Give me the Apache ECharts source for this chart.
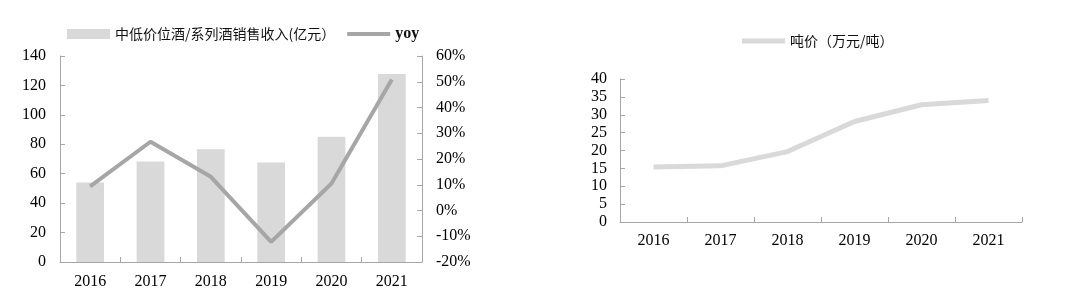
<!DOCTYPE html>
<html>
<head>
<meta charset="utf-8">
<script src="https://cdn.jsdelivr.net/npm/echarts@6/dist/echarts.min.js"></script>
<style>html,body{margin:0;padding:0;background:#fff}#c{width:1080px;height:305px}</style>
</head>
<body>
<div id="c"></div>
<script>
const years = ['2016','2017','2018','2019','2020','2021'];
const revenue = [54.1, 68.3, 76.7, 67.6, 85.1, 127.7];
const yoy = [9.4, 26.7, 13.1, -12.2, 10.5, 50.9];
const tonPrice = [15.4, 15.7, 19.7, 28.1, 32.8, 34.0];
const revName = '中低价位酒/系列酒销售收入(亿元）';
const yoyName = 'yoy';
const priceName = '吨价（万元/吨）';

const serif = 'Liberation Serif';
const cjk = 'Noto Sans CJK SC';
const axisLineStyle = {show: true, lineStyle: {color: '#a6a6a6', width: 1}};
const tickStyle = {show: true, inside: true, length: 5, lineStyle: {color: '#a6a6a6'}};
const labelStyle = {fontFamily: serif, fontSize: 16, color: '#000'};

const chart = echarts.init(document.getElementById('c'), null, {renderer: 'canvas'});
chart.setOption({
  animation: false,
  backgroundColor: '#fff',
  legend: [
    {data: [{name: revName, icon: 'rect'}, {name: yoyName, icon: 'path://M0,0H43V4H0Z'}],
     left: 62, top: 21, itemWidth: 43, itemHeight: 10, itemGap: 12,
     formatter: function (n) { return n === yoyName ? '{s|' + n + '}' : n; },
     textStyle: {fontFamily: cjk, fontSize: 14, color: '#111',
       rich: {s: {fontFamily: serif, fontSize: 16, fontWeight: 'bold', color: '#111'}}}},
    {data: [{name: priceName, icon: 'path://M0,0H43V5H0Z'}], left: 737, top: 29, itemWidth: 43, itemHeight: 10,
     textStyle: {fontFamily: cjk, fontSize: 14, color: '#111'}}
  ],
  grid: [
    {left: 60, right: 658, top: 56, bottom: 43},
    {left: 620, right: 58, top: 79, bottom: 83}
  ],
  xAxis: [
    {type: 'category', gridIndex: 0, data: years, boundaryGap: true,
     axisLine: axisLineStyle, axisTick: tickStyle, axisLabel: Object.assign({margin: 12}, labelStyle)},
    {type: 'category', gridIndex: 1, data: years, boundaryGap: true,
     axisLine: axisLineStyle, axisTick: tickStyle, axisLabel: Object.assign({margin: 11}, labelStyle)}
  ],
  yAxis: [
    {type: 'value', gridIndex: 0, min: 0, max: 140, interval: 20,
     axisLine: axisLineStyle, axisTick: tickStyle, splitLine: {show: false},
     axisLabel: Object.assign({margin: 14}, labelStyle)},
    {type: 'value', gridIndex: 0, min: -20, max: 60, interval: 10, position: 'right',
     axisLine: axisLineStyle, axisTick: tickStyle, splitLine: {show: false},
     axisLabel: Object.assign({margin: 14, formatter: '{value}%'}, labelStyle)},
    {type: 'value', gridIndex: 1, min: 0, max: 40, interval: 5,
     axisLine: axisLineStyle, axisTick: tickStyle, splitLine: {show: false},
     axisLabel: Object.assign({margin: 13}, labelStyle)}
  ],
  series: [
    {name: revName, type: 'bar', xAxisIndex: 0, yAxisIndex: 0, data: revenue,
     barWidth: '46%', itemStyle: {color: '#d9d9d9'}},
    {name: yoyName, type: 'line', xAxisIndex: 0, yAxisIndex: 1, data: yoy,
     symbol: 'none', lineStyle: {color: '#a6a6a6', width: 4}, itemStyle: {color: '#a6a6a6'}},
    {name: priceName, type: 'line', xAxisIndex: 1, yAxisIndex: 2, data: tonPrice,
     symbol: 'none', lineStyle: {color: '#d9d9d9', width: 5}, itemStyle: {color: '#d9d9d9'}}
  ]
});
</script>
</body>
</html>
